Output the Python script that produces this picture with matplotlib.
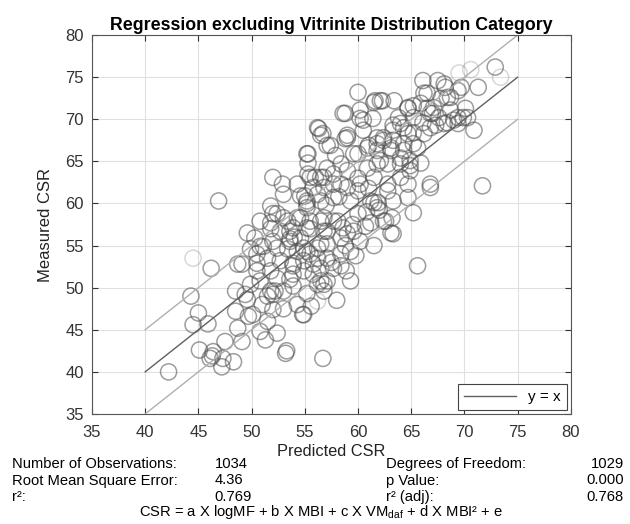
import numpy as np
import matplotlib
matplotlib.use("Agg")
import matplotlib.pyplot as plt

plt.rcParams['font.family'] = ['Liberation Sans', 'DejaVu Sans']
plt.rcParams['mathtext.default'] = 'regular'

# predicted / measured CSR
pred = [44.5, 46.2, 44.3, 45.0, 44.5, 45.9, 45.1, 46.4, 46.1, 47.2, 47.3, 48.3, 47.5, 42.2,
        48.5, 48.5, 48.7, 49.1, 49.7, 49.6, 49.9, 49.1, 50.5, 51.5, 51.5, 50.8, 51.3, 51.8,
        52.0, 46.3, 50.1, 49.4, 49.6, 48.7, 49.9, 50.8, 52.0, 52.2, 52.0, 52.4, 53.2, 53.3,
        53.6, 53.9, 54.3, 54.8, 53.0, 55.2, 56.7, 56.2, 56.8, 56.5, 55.5, 53.6, 54.9, 56.5,
        52.4, 53.4, 54.3, 55.2, 51.8, 56.8, 53.6,
        56.3, 56.5, 55.3, 57.1, 52.0, 52.9, 46.9, 54.6, 55.3, 56.0, 56.8, 55.2, 60.0, 61.5,
        58.8, 60.2, 60.5, 59.0, 58.8, 57.4, 55.3, 57.9, 60.0, 61.0, 61.8,
        61.6, 62.3, 63.4, 64.7, 66.1, 67.5, 68.1, 69.5, 70.6, 71.3, 72.9, 73.4, 70.9, 71.7,
        58.6, 60.2, 59.0, 60.5, 56.2, 56.7, 55.2, 66.5, 67.1, 68.4, 69.4, 69.9, 69.0, 68.1,
        66.8, 65.9, 66.8, 65.2, 64.0, 64.7, 63.3, 62.4, 61.8, 63.1, 64.3, 65.2, 60.9, 59.6,
        58.4, 57.1, 57.7, 59.0, 60.9, 61.8, 62.8, 64.0, 64.9, 64.0, 64.7, 62.8, 61.5, 60.2,
        60.0, 58.4, 56.5, 55.8, 55.2, 56.5, 57.7, 59.3, 61.2, 61.8, 63.3, 64.7, 65.2, 66.8,
        64.9, 61.2, 62.4, 57.7, 56.8, 55.5,
        69.7, 68.2, 66.2, 67.8, 68.7, 66.5, 67.0, 67.6, 68.7, 69.4, 70.1, 70.3, 69.4, 68.4,
        67.3, 66.1, 65.2, 64.7, 63.8, 62.1, 64.3, 65.2, 66.2, 63.3, 62.4, 63.3, 65.6, 64.3,
        63.1, 61.8, 62.1, 64.0, 64.9, 65.9, 61.4,
        66.8, 63.3, 62.6, 61.5, 61.9, 65.6, 63.2,
        55.0, 56.2, 55.2, 54.6, 53.0, 52.0, 51.8, 52.7, 53.9, 53.6, 54.6, 55.5, 56.5, 57.1,
        58.1, 58.6, 59.0, 56.2, 57.1, 55.2, 54.3, 53.4, 52.4, 51.1, 50.5, 51.5, 52.7, 53.9,
        54.9, 56.2, 57.1, 58.4, 54.9, 53.9, 55.8, 56.2, 53.9, 52.4, 51.8, 53.0, 50.8, 50.5,
        50.3, 50.8, 51.8, 53.0, 54.3, 55.5, 56.8, 57.7, 59.0, 60.0, 59.6, 59.3, 58.4, 57.7,
        57.1, 63.1, 56.5, 56.8, 54.9,
        58.8, 60.2, 59.8, 60.7, 58.4, 59.3, 57.5, 58.0, 60.8, 62.0, 61.0, 59.5, 57.0, 55.8,
        58.2, 61.5, 62.8, 60.0, 54.0, 51.0, 55.6, 58.9]
meas = [53.5, 52.3, 49.0, 47.0, 45.6, 45.7, 42.6, 42.4, 41.6, 40.6, 41.6, 41.2, 43.6, 40.0,
        49.6, 47.2, 45.2, 43.6, 46.6, 48.6, 50.4, 52.8, 52.9, 49.0, 46.0, 44.8, 43.8, 52.0,
        47.4, 41.9, 46.8, 49.2, 56.5, 52.8, 54.6, 54.9, 55.5, 49.6, 49.2, 44.6, 42.2, 42.5,
        51.0, 52.6, 48.0, 46.8, 47.5, 49.3, 41.6, 48.4, 50.4, 52.3, 54.0, 55.5, 54.7, 55.2,
        58.8, 57.9, 58.3, 57.1, 57.7, 56.7, 56.7,
        68.9, 68.1, 65.9, 66.9, 63.1, 62.3, 60.3, 60.9, 63.5, 63.1, 61.9, 60.0, 73.2, 72.0,
        70.7, 71.1, 69.9, 68.1, 67.7, 66.9, 64.8, 65.7, 65.9, 66.9, 67.8,
        72.2, 72.2, 72.2, 71.4, 74.6, 74.6, 74.2, 75.5, 75.9, 73.8, 76.2, 75.0, 68.7, 62.1,
        70.7, 70.1, 67.8, 68.7, 69.0, 68.3, 65.9, 73.1, 71.4, 72.6, 73.4, 70.2, 69.9, 69.5,
        70.7, 71.9, 69.0, 70.2, 69.5, 68.3, 68.7, 67.5, 67.1, 66.6, 67.1, 67.1, 66.6, 65.9,
        64.7, 64.2, 63.5, 63.9, 64.2, 64.7, 64.7, 64.7, 65.1, 63.1, 62.3, 62.3, 63.1, 62.3,
        61.5, 62.3, 63.1, 61.9, 60.3, 60.3, 60.7, 60.3, 60.3, 59.5, 60.3, 60.7, 58.9, 62.3,
        63.9, 57.7, 57.9, 57.9, 58.3, 57.9,
        73.8, 73.8, 73.1, 72.5, 72.6, 71.3, 70.7, 70.2, 71.1, 70.2, 71.3, 70.2, 69.5, 69.6,
        69.3, 69.6, 71.6, 71.3, 70.2, 72.2, 69.0, 68.4, 68.3, 69.3, 67.8, 67.5, 66.6, 66.3,
        66.3, 66.3, 65.1, 65.4, 64.5, 64.8, 70.1,
        61.9, 56.4, 57.9, 60.1, 60.1, 52.6, 58.3,
        60.9, 61.1, 59.5, 58.3, 58.3, 58.8, 57.0, 56.7, 57.1, 55.8, 55.9, 57.0, 57.9, 56.7,
        57.9, 57.1, 56.4, 54.7, 55.2, 54.3, 54.3, 54.6, 54.7, 54.9, 54.0, 53.5, 53.2, 52.9,
        53.2, 53.5, 53.5, 54.0, 52.0, 51.6, 51.6, 50.4, 50.2, 51.1, 49.6, 49.6, 50.8, 52.0,
        55.9, 57.9, 59.7, 61.1, 62.3, 63.1, 63.1, 62.3, 61.9, 58.8, 56.7, 54.3, 55.9, 52.3,
        50.8, 56.5, 50.8, 49.6, 46.8,
        55.0, 55.5, 53.8, 57.3, 52.6, 50.8, 53.0, 48.5, 59.0, 59.2, 61.8, 57.5, 59.8, 52.8,
        60.8, 55.0, 61.5, 63.0, 56.0, 48.0, 47.8, 52.0]
# lighter (more transparent) circles
light = [0, 49, 95, 96, 99]

line_x = [40, 75]
band = 5

fig = plt.figure(figsize=(6.3, 5.24), dpi=100)
ax = fig.add_axes([0.146, 0.21, 0.76, 0.723])

pred = np.array(pred)
meas = np.array(meas)
alphas = np.full(len(pred), 0.55)
alphas[light] = 0.22
cols = np.zeros((len(pred), 4))
cols[:, :3] = 0.3
cols[:, 3] = alphas
ax.scatter(pred, meas, s=135, facecolors='none', edgecolors=cols, linewidths=1.1)

lx = np.array(line_x)
ax.plot(lx, lx, color='#606060', lw=1.0, label='y = x')
ax.plot(lx, lx + band, color='#b0b0b0', lw=1.0)
ax.plot(lx, lx - band, color='#b0b0b0', lw=1.0)

ax.set_xlim(35, 80)
ax.set_ylim(35, 80)
ax.set_xticks(np.arange(35, 81, 5))
ax.set_yticks(np.arange(35, 81, 5))
ax.grid(True, color='#e0e0e0', lw=0.8)
ax.set_axisbelow(True)
ax.tick_params(direction='in', top=True, right=True, labelsize=12, colors='#333333',
               length=4)
ax.tick_params(axis='x', pad=8)
ax.tick_params(axis='y', pad=6)
for s in ax.spines.values():
    s.set_color('#555555')
ax.set_xlabel('Predicted CSR', fontsize=11.8, labelpad=3, color='#222222')
ax.set_ylabel('Measured CSR', fontsize=12, labelpad=9, color='#222222')
ax.set_title('Regression excluding Vitrinite Distribution Category', fontsize=12.8,
             fontweight='bold', pad=4)

leg = ax.legend(loc='lower right', fontsize=11, fancybox=False, framealpha=1,
                edgecolor='#444444', handlelength=3.4, borderaxespad=0.25)
leg.get_frame().set_linewidth(0.8)

fs = 10.6
rows = [('Number of Observations:', '1034', 'Degrees of Freedom:', '1029'),
        ('Root Mean Square Error:', '4.36', 'p Value:', '0.000'),
        ('r²:', '0.769', 'r² (adj):', '0.768')]
for i, (a, b, c, d) in enumerate(rows):
    yy = 1 - (464 + i * 16.5) / 524
    fig.text(0.019, yy, a, fontsize=fs, va='center')
    fig.text(0.341, yy, b, fontsize=fs, va='center')
    fig.text(0.613, yy, c, fontsize=fs, va='center')
    fig.text(0.99, yy, d, fontsize=fs, va='center', ha='right')
fig.text(0.51, 1 - 512 / 524, 'CSR = a X logMF + b X MBI + c X VM$_{daf}$ + d X MBI² + e',
         fontsize=fs, ha='center', va='center')

fig.savefig('out.png', dpi=100)
